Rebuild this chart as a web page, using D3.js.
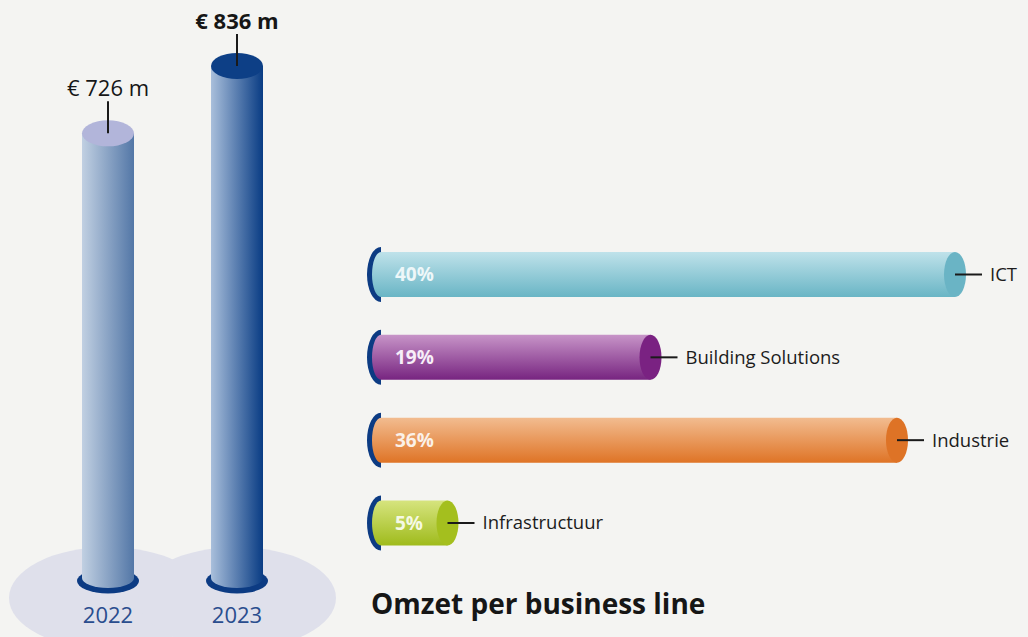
<!DOCTYPE html>
<html>
<head>
<meta charset="utf-8">
<script src="https://cdn.jsdelivr.net/npm/d3@7"></script>
<style>
  html, body { margin: 0; padding: 0; background: #f4f4f2; }
  svg { display: block; }
</style>
</head>
<body>
<svg id="chart" width="1028" height="637"></svg>
<script>
// ---- data ----
const years = ["2022", "2023"];
const revenue = [726, 836];
const revenueLabels = ["€ 726 m", "€ 836 m"];
const businessLines = ["ICT", "Building Solutions", "Industrie", "Infrastructuur"];
const shares = [40, 19, 36, 5];
const shareLabels = ["40%", "19%", "36%", "5%"];
const title = "Omzet per business line";

// ---- styles ----
const lineColors = {
  "ICT":               { top: "#bfe2ea", bottom: "#69b5c5", end: "#6ab4c5", text: "#eef7f9" },
  "Building Solutions":{ top: "#c794c8", bottom: "#772480", end: "#7a2282", text: "#f7eef8" },
  "Industrie":         { top: "#f2bc90", bottom: "#df7426", end: "#de7326", text: "#fbf1e8" },
  "Infrastructuur":    { top: "#d6e47e", bottom: "#9fbb1c", end: "#a4bf1e", text: "#f5f9e4" }
};
const yearColors = {
  "2022": { left: "#c1d0e2", right: "#5377a7", top: "#b2b5da" },
  "2023": { left: "#a9bfdb", right: "#093c84", top: "#0d3f86" }
};
const darkBlue = "#0c3b83";

const svg = d3.select("#chart");
const defs = svg.append("defs");

// ---- scales ----
const yRev = d3.scaleLinear().domain([0, 836]).range([578, 66]);
const xYear = d3.scalePoint().domain(years).range([108, 237]);
const xShare = d3.scaleLinear().domain([0, 40]).range([375, 955]);
const yLine = d3.scalePoint().domain(businessLines).range([274.5, 523]);

// ---- left: cylinders ----
const cylRx = 26, cylRy = 13, botRy = 10;
const yearData = years.map((y, i) => ({ year: y, value: revenue[i], label: revenueLabels[i] }));

yearData.forEach((d, i) => {
  const g = defs.append("linearGradient").attr("id", "yg" + i)
    .attr("x1", "0").attr("x2", "1").attr("y1", "0").attr("y2", "0");
  g.append("stop").attr("offset", "0").attr("stop-color", yearColors[d.year].left);
  g.append("stop").attr("offset", "1").attr("stop-color", yearColors[d.year].right);
});

const left = svg.append("g");
left.selectAll("ellipse.base").data(yearData).join("ellipse")
  .attr("class", "base")
  .attr("cx", d => xYear(d.year)).attr("cy", 598)
  .attr("rx", 99).attr("ry", 51)
  .attr("fill", "#dfe0eb");
left.selectAll("ellipse.ring").data(yearData).join("ellipse")
  .attr("class", "ring")
  .attr("cx", d => xYear(d.year)).attr("cy", yRev(0) + 3)
  .attr("rx", cylRx + 5).attr("ry", botRy + 2.5)
  .attr("fill", darkBlue);
left.selectAll("path.body").data(yearData).join("path")
  .attr("class", "body")
  .attr("fill", (d, i) => `url(#yg${i})`)
  .attr("d", d => {
    const cx = xYear(d.year), t = yRev(d.value), b = yRev(0);
    return `M${cx - cylRx},${t} L${cx + cylRx},${t} L${cx + cylRx},${b} A${cylRx} ${botRy} 0 0 1 ${cx - cylRx},${b} Z`;
  });
left.selectAll("ellipse.top").data(yearData).join("ellipse")
  .attr("class", "top")
  .attr("cx", d => xYear(d.year)).attr("cy", d => yRev(d.value))
  .attr("rx", cylRx).attr("ry", cylRy)
  .attr("fill", d => yearColors[d.year].top);
left.selectAll("line.lead").data(yearData).join("line")
  .attr("class", "lead")
  .attr("x1", d => xYear(d.year)).attr("x2", d => xYear(d.year))
  .attr("y1", d => yRev(d.value) - 32).attr("y2", d => yRev(d.value))
  .attr("stroke", "#1a1a1a").attr("stroke-width", 2);
left.selectAll("text.val").data(yearData).join("text")
  .attr("class", "val")
  .attr("x", d => xYear(d.year)).attr("y", d => yRev(d.value) - 37)
  .attr("text-anchor", "middle")
  .attr("font-family", "'Open Sans', sans-serif")
  .attr("font-size", 22)
  .attr("font-weight", (d, i) => i === 1 ? 700 : 400)
  .attr("fill", "#161616")
  .text(d => d.label);
left.selectAll("text.year").data(yearData).join("text")
  .attr("class", "year")
  .attr("x", d => xYear(d.year)).attr("y", 623)
  .attr("text-anchor", "middle")
  .attr("font-family", "'Open Sans', sans-serif")
  .attr("font-size", 22)
  .attr("fill", "#2a4d8e")
  .text(d => d.year);

// ---- right: horizontal cylinders ----
const barH = 45, capRx = 9, endRx = 11;
const lineData = businessLines.map((n, i) => ({ name: n, value: shares[i], label: shareLabels[i] }));

lineData.forEach((d, i) => {
  const g = defs.append("linearGradient").attr("id", "lg" + i)
    .attr("x1", "0").attr("x2", "0").attr("y1", "0").attr("y2", "1");
  g.append("stop").attr("offset", "0").attr("stop-color", lineColors[d.name].top);
  g.append("stop").attr("offset", "1").attr("stop-color", lineColors[d.name].bottom);
});

const right = svg.append("g");
const x0 = 381;
right.selectAll("path.ring").data(lineData).join("path")
  .attr("class", "ring")
  .attr("fill", darkBlue)
  .attr("d", d => {
    const cy = yLine(d.name), R = barH / 2 + 5;
    return `M${x0},${cy - R} A${capRx + 5} ${R} 0 0 0 ${x0},${cy + R} Z`;
  });
right.selectAll("path.body").data(lineData).join("path")
  .attr("class", "body")
  .attr("fill", (d, i) => `url(#lg${i})`)
  .attr("d", d => {
    const cy = yLine(d.name), ex = xShare(d.value), h = barH / 2;
    return `M${x0},${cy - h} L${ex},${cy - h} L${ex},${cy + h} L${x0},${cy + h} A${capRx} ${h} 0 0 1 ${x0},${cy - h} Z`;
  });
right.selectAll("ellipse.end").data(lineData).join("ellipse")
  .attr("class", "end")
  .attr("cx", d => xShare(d.value)).attr("cy", d => yLine(d.name))
  .attr("rx", endRx).attr("ry", barH / 2)
  .attr("fill", d => lineColors[d.name].end);
right.selectAll("line.lead").data(lineData).join("line")
  .attr("class", "lead")
  .attr("x1", d => xShare(d.value)).attr("x2", d => xShare(d.value) + 27)
  .attr("y1", d => yLine(d.name)).attr("y2", d => yLine(d.name))
  .attr("stroke", "#1a1a1a").attr("stroke-width", 2);
right.selectAll("text.cat").data(lineData).join("text")
  .attr("class", "cat")
  .attr("x", d => xShare(d.value) + 35).attr("y", d => yLine(d.name))
  .attr("dy", "0.35em")
  .attr("font-family", "'Open Sans', sans-serif")
  .attr("font-size", 18.5)
  .attr("fill", "#1c1c1c")
  .text(d => d.name);
right.selectAll("text.pct").data(lineData).join("text")
  .attr("class", "pct")
  .attr("x", 395).attr("y", d => yLine(d.name))
  .attr("dy", "0.36em")
  .attr("font-family", "'Open Sans', sans-serif")
  .attr("font-size", 19)
  .attr("font-weight", 700)
  .attr("fill", d => lineColors[d.name].text)
  .text(d => d.label);

svg.append("text")
  .attr("x", 371).attr("y", 614)
  .attr("font-family", "'Open Sans', sans-serif")
  .attr("font-size", 28)
  .attr("font-weight", 700)
  .attr("fill", "#161616")
  .text(title);
</script>
</body>
</html>
